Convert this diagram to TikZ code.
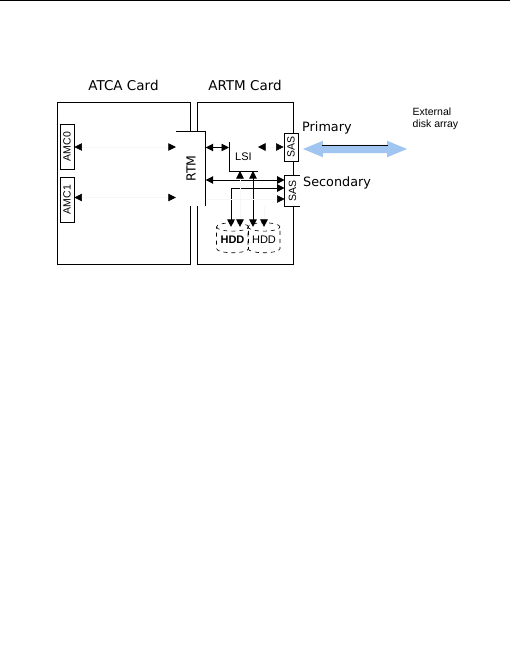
\documentclass[tikz,border=0pt]{standalone}
\usepackage{fontspec}
\setmainfont{DejaVu Sans}
\newfontfamily\smallfont{Liberation Sans}
\usetikzlibrary{arrows.meta,positioning,shapes.geometric,shapes.arrows}
\definecolor{linkblue}{HTML}{9FC5F0}
\begin{document}
\begin{tikzpicture}[x=1pt,y=-1pt,>={Triangle[length=7.5pt,width=7.5pt,color=black]},
 card/.style={draw,line width=.9pt,minimum width=#1,minimum height=162pt,inner sep=0pt},
 slot/.style={draw,line width=.8pt,fill=white,rotate=90,inner sep=0pt,font=\smallfont\fontsize{10.5}{10.5}\selectfont},
 title/.style={font=\fontsize{13.5}{14}\selectfont,inner sep=0pt},
 tag/.style={font=\fontsize{12.8}{14}\selectfont,inner sep=0pt,anchor=west},
 disk/.style={draw,dash pattern=on 4pt off 4pt,line width=.6pt,shape=cylinder,shape border rotate=90,aspect=.35,inner sep=0pt,
 minimum width=32pt,minimum height=30pt,font=\smallfont\fontsize{11}{11}\selectfont},
 link/.style={<->,line width=.9pt},
 faint/.style={draw=black!3,line width=.5pt}]
 \useasboundingbox (0,0) rectangle (510,650);
 \draw[line width=1.2pt] (0,.5)--(510,.5);
 \node[card=133pt] (atca) at (123.5,183) {};
 \node[card=96pt] (artm) at (245,183) {};
 \node[title,above=11pt of atca] (atcatitle) {ATCA Card};
 \node[title,above=11pt of artm] (artmtitle) {ARTM Card};
 \node[slot,minimum width=45pt,minimum height=14pt] (amc0) at (67,146.5) {AMC0};
 \node[slot,minimum width=45pt,minimum height=14pt] (amc1) at (67,199.5) {AMC1};
 \node[fill=white,minimum width=29.5pt,minimum height=74pt,inner sep=0pt] (rtm) at (190.75,169) {};
 \node[rotate=90,font=\fontsize{12.5}{12.5}\selectfont,inner sep=0pt] (rtmtext) at (191,168.5) {RTM};
 \draw[line width=.9pt] (rtm.north west)--(rtm.north east)--(rtm.south east);
 \node[inner sep=0pt,font=\smallfont\fontsize{11}{11}\selectfont] (lsi) at (243.5,157) {LSI};
 \coordinate (lsil) at (229,142);
 \coordinate (lsic) at (229,171);
 \coordinate (lsir) at (258,171);
 \draw[line width=.9pt] (lsil)--(lsic)--(lsir);
 \node[slot,minimum width=28pt,minimum height=14pt] (sas0) at (291,147) {SAS};
 \node[slot,minimum width=30pt,minimum height=15pt,draw=none] (sas1) at (292.5,191) {SAS};
 \draw[line width=.8pt] (sas1.south west)--(sas1.north west)--(sas1.north east)--(sas1.south east);
 \node[disk] (hdd0) at (232.5,240) {\textbf{HDD}};
 \node[disk] (hdd1) at (264,240) {HDD};
 \coordinate (bus0) at (231,188);
 \coordinate (bus1) at (253,171);
 \coordinate (stub0) at (240,171);
 \coordinate (stub1) at (264,206);
 \draw[link,faint] (amc0.south |- 0,147)--(rtm.west |- 0,147);
 \draw[link,faint] (amc1.south |- 0,197.5)--(rtm.west |- 0,197.5);
 \draw[link,faint] (258,147)--(sas0.north);
 \draw[link] (rtm.east |- 0,147.5)--(lsil |- 0,147.5);
 \draw[link] (rtm.east |- 0,180)--(sas1.north |- 0,180);
 \draw[link] (bus1)--(bus1 |- hdd1.before top);
 \draw[->,line width=.9pt] (bus0)--(bus0 |- hdd0.before top);
 \draw[->,line width=.9pt] (bus0)--(sas1.north |- bus0);
 \draw[->,faint] (rtm.east |- 0,199)--(sas1.north |- 0,199);
 \draw[link,faint] (stub0)--(stub0 |- hdd0.before top);
 \draw[->,faint] (stub1)--(stub1 |- hdd1.before top);
 \node[shape=double arrow,fill=linkblue,minimum width=16pt,minimum height=104pt,
 double arrow head extend=4pt,double arrow tip angle=45,inner sep=4pt] (uplink) at (355,149) {};
 \coordinate (uplinkl) at (322,145);
 \coordinate (uplinkr) at (388,145);
 \draw[line width=.8pt] (uplinkl)--(uplinkr);
 \node[tag] (primary) at (302,128) {Primary};
 \node[tag] (secondary) at (303,183) {Secondary};
 \node[anchor=west,align=left,inner sep=0pt,font=\smallfont\fontsize{10.5}{12}\selectfont] (extarray) at (412.5,119) {External\\disk array};
\end{tikzpicture}
\end{document}
